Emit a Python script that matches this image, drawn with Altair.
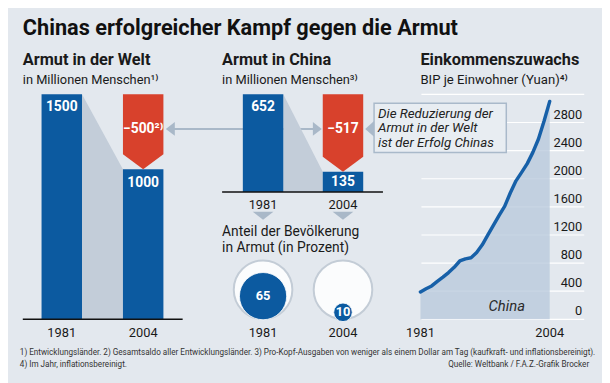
import altair as alt
import pandas as pd
import numpy as np

# ---------------- data ----------------
world_years = [1981, 2004]
world_values = [1500, 1000]
world_change_label = "−500²⁾"
china_years = [1981, 2004]
china_values = [652, 135]
china_change_label = "−517"
share_years = [1981, 2004]
share_values = [65, 10]
gdp_years = list(range(1981, 2005))
gdp_values = [390, 435, 475, 540, 600, 665, 740, 830, 860, 875, 950, 1060,
              1200, 1340, 1480, 1610, 1800, 1970, 2090, 2215, 2375, 2565, 2820, 3100]
gdp_grid = [0, 400, 800, 1200, 1600, 2000, 2400, 2800, 3200]
gdp_tick_labels = ["0", "400", "800", "1200", "1600", "2000", "2400", "2800"]

# ---------------- style ----------------
BG = "#e3e8ee"
BLUE = "#0c5aa0"
RED = "#d8412c"
SHADE = "#c3cdd9"
ARROW = "#a9b8c8"
TXT = "#1a1a1a"
FONT = "Roboto"
W, H = 602, 375

W_X = [54.5, 137]
C_X = [258.5, 339.5]
L_X = [418, 549]
BAR_PX = 20.5
TIP = 100


def xs(rng):
    return alt.Scale(domain=[1981, 2004], range=rng, nice=False, zero=False)


W_Y = alt.Scale(domain=[0, 1500], range=[313, 85], nice=False, zero=False)
C_Y = alt.Scale(domain=[0, 652], range=[184, 85], nice=False, zero=False)
L_Y = alt.Scale(domain=[0, 3200], range=[313, 85], nice=False, zero=False)

dummy = pd.DataFrame({"a": [0]})


def txt(text, x, y, size=13, weight="normal", align="left", color=TXT,
        font=FONT, style="normal", baseline="middle", **kw):
    return alt.Chart(dummy).mark_text(
        text=text, fontSize=size, fontWeight=weight, align=align, color=color,
        font=font, fontStyle=style, baseline=baseline, **kw
    ).encode(x=alt.value(x), y=alt.value(y))


def bar_panel(years, values, rng, yscale, change_label, label_dy2):
    hw = BAR_PX * 23 / (rng[1] - rng[0])
    df = pd.DataFrame({"year": years, "value": values})
    conn = pd.DataFrame({"x": [years[0] + hw, years[1] - hw], "value": values})
    pent = pd.DataFrame({
        "x": [years[1] - hw, years[1], years[1] + hw],
        "lo": [values[1] + TIP, values[1], values[1] + TIP],
        "hi": [values[0]] * 3,
    })
    X = lambda f: alt.X(f, scale=xs(rng), axis=None)
    Y = lambda f: alt.Y(f, scale=yscale, axis=None)
    shade = alt.Chart(conn).mark_area(color=SHADE).encode(
        x=X("x:Q"), y=Y("value:Q"), y2=alt.datum(0))
    bars = alt.Chart(df).transform_calculate(
        x0=f"datum.year - {hw}", x1=f"datum.year + {hw}"
    ).mark_rect(color=BLUE).encode(
        x=X("x0:Q"), x2="x1:Q", y=Y("value:Q"), y2=alt.datum(0))
    red = alt.Chart(pent).mark_area(color=RED, opacity=1).encode(
        x=X("x:Q"), y=Y("lo:Q"), y2=alt.Y2("hi:Q"))
    lab1 = alt.Chart(df.iloc[[0]]).mark_text(
        color="white", fontWeight="bold", fontSize=14, font=FONT, dy=13
    ).encode(x=X("year:Q"), y=Y("value:Q"), text="value:N")
    lab2 = alt.Chart(df.iloc[[1]]).mark_text(
        color="white", fontWeight="bold", fontSize=14, font=FONT, dy=label_dy2
    ).encode(x=X("year:Q"), y=Y("value:Q"), text="value:N")
    chg = alt.Chart(df.iloc[[1]]).mark_text(
        color="white", fontWeight="bold", fontSize=14, font=FONT,
        text=change_label
    ).encode(x=X("year:Q"), y=alt.value(120))
    return [shade, bars, red, lab1, lab2, chg]


def year_labels(years, rng, y):
    df = pd.DataFrame({"year": years})
    return alt.Chart(df).mark_text(fontSize=13, font=FONT, color=TXT).encode(
        x=alt.X("year:Q", scale=xs(rng), axis=None), y=alt.value(y),
        text="year:N")


layers = []

# ---- line chart panel ----
grid = alt.Chart(pd.DataFrame({"v": gdp_grid})).mark_rule(
    color="white", strokeWidth=1.2).encode(
    y=alt.Y("v:Q", scale=L_Y, axis=None), x=alt.value(419), x2=alt.value(584))
gdf = pd.DataFrame({"year": gdp_years, "value": gdp_values})
area = alt.Chart(gdf).mark_area(color="#b9c9dc", opacity=0.78).encode(
    x=alt.X("year:Q", scale=xs(L_X), axis=None),
    y=alt.Y("value:Q", scale=L_Y, axis=None), y2=alt.datum(0))
line = alt.Chart(gdf).mark_line(color="#1760a8", strokeWidth=3.5,
                                strokeCap="round", strokeJoin="round").encode(
    x=alt.X("year:Q", scale=xs(L_X), axis=None),
    y=alt.Y("value:Q", scale=L_Y, axis=None))
ticks = alt.Chart(pd.DataFrame({"v": gdp_grid[:-1], "t": gdp_tick_labels})).mark_text(
    align="right", baseline="bottom", fontSize=13, font=FONT, color=TXT, dy=-1
).encode(y=alt.Y("v:Q", scale=L_Y, axis=None), x=alt.value(582), text="t:N")
layers += [grid, area, line, ticks, year_labels(world_years, L_X, 327),
           txt("China", 487, 300, size=15, style="italic", color="#2a2a2a")]

# ---- world panel ----
layers += bar_panel(world_years, world_values, W_X, W_Y, world_change_label, 14)
layers += [alt.Chart(dummy).mark_rule(color="#111", strokeWidth=1.5).encode(
    x=alt.value(15), x2=alt.value(177), y=alt.value(313)),
    year_labels(world_years, W_X, 327)]

# ---- grey arrow between panels ----
layers += [
    alt.Chart(dummy).mark_rule(color=ARROW, strokeWidth=2).encode(
        x=alt.value(164), x2=alt.value(313), y=alt.value(120)),
    alt.Chart(dummy).mark_point(shape="M-0.65,0L0.65,-1L0.65,1Z", size=196,
                                filled=True, color=ARROW, opacity=1).encode(
        x=alt.value(164.5), y=alt.value(120)),
    alt.Chart(dummy).mark_point(shape="M0.65,0L-0.65,-1L-0.65,1Z", size=196,
                                filled=True, color=ARROW, opacity=1).encode(
        x=alt.value(313.5), y=alt.value(120)),
]

# ---- china panel ----
layers += bar_panel(china_years, china_values, C_X, C_Y, china_change_label, 10)
layers += [alt.Chart(dummy).mark_rule(color="#111", strokeWidth=1.5).encode(
    x=alt.value(217), x2=alt.value(380), y=alt.value(184)),
    year_labels(china_years, C_X, 197)]
tri = pd.DataFrame({"year": china_years})
layers += [alt.Chart(tri).mark_point(shape="M-1,-0.38L1,-0.38L0,0.38Z", size=441,
                                     filled=True, color=ARROW, opacity=1).encode(
    x=alt.X("year:Q", scale=xs(C_X), axis=None), y=alt.value(208))]

# ---- callout ----
layers += [
    alt.Chart(dummy).mark_rect(fill="#e8edf2", stroke="#a9b9ca", strokeWidth=1.5).encode(
        x=alt.value(371), x2=alt.value(505), y=alt.value(94), y2=alt.value(144)),
    alt.Chart(dummy).mark_point(shape="M-0.5625,0L0.5625,-1L0.5625,1Z", size=256,
                                filled=True, color="#a9b9ca", opacity=1).encode(
        x=alt.value(366.5), y=alt.value(120)),
    txt("Die Reduzierung der", 375, 105, size=13.5, style="italic", color="#222"),
    txt("Armut in der Welt", 375, 119.5, size=13.5, style="italic", color="#222"),
    txt("ist der Erfolg Chinas", 375, 134, size=13.5, style="italic", color="#222"),
]

# ---- circles ----
sdf = pd.DataFrame({"year": share_years, "pct": share_values})
SIZE = alt.Scale(domain=[0, 100], range=[0, 3526], zero=True, nice=False)
OFF = alt.Scale(domain=[0, 1], range=[283, 316.5], nice=False, zero=False)
layers += [
    alt.Chart(sdf).transform_calculate(full="100", o="0").mark_circle(
        color="#fbfcfd", stroke="#c3ccd6", strokeWidth=2, opacity=1).encode(
        x=alt.X("year:Q", scale=xs(C_X), axis=None),
        y=alt.Y("o:Q", scale=OFF, axis=None),
        size=alt.Size("full:Q", scale=SIZE, legend=None)),
    alt.Chart(sdf).transform_calculate(o="1 - sqrt(datum.pct / 100)").mark_circle(
        color=BLUE, opacity=1, stroke="white", strokeWidth=0.8).encode(
        x=alt.X("year:Q", scale=xs(C_X), axis=None),
        y=alt.Y("o:Q", scale=OFF, axis=None),
        size=alt.Size("pct:Q", scale=SIZE, legend=None)),
    alt.Chart(sdf).transform_calculate(o="1 - sqrt(datum.pct / 100)").mark_text(
        color="white", fontWeight="bold", fontSize=13, font=FONT).encode(
        x=alt.X("year:Q", scale=xs(C_X), axis=None),
        y=alt.Y("o:Q", scale=OFF, axis=None), text="pct:N"),
    year_labels(share_years, C_X, 327),
]

# ---- texts ----
FOOT = 8.25
layers += [
    txt("Chinas erfolgreicher Kampf gegen die Armut", 15, 25, size=22,
        weight="bold", baseline="alphabetic", color="#111"),
    txt("Armut in der Welt", 15, 50, size=16.5, weight="bold"),
    txt("in Millionen Menschen¹⁾", 15, 70, size=13),
    txt("Armut in China", 217, 50, size=16.5, weight="bold"),
    txt("in Millionen Menschen³⁾", 217, 70, size=13),
    txt("Einkommenszuwachs", 418, 50, size=16.5, weight="bold"),
    txt("BIP je Einwohner (Yuan)⁴⁾", 418, 70, size=13.3),
    txt("Anteil der Bevölkerung", 217, 225, size=14),
    txt("in Armut (in Prozent)", 217, 241, size=14),
    txt("1) Entwicklungsländer. 2) Gesamtsaldo aller Entwicklungsländer. 3) Pro-Kopf-Ausgaben von weniger als einem Dollar am Tag (kaufkraft- und inflationsbereinigt).",
        12, 347, size=FOOT, color="#333"),
    txt("4) Im Jahr, inflationsbereinigt.", 12, 359, size=FOOT, color="#333"),
    txt("Quelle: Weltbank / F.A.Z.-Grafik Brocker", 589, 359, size=FOOT,
        color="#333", align="right"),
]

chart = alt.layer(*layers).resolve_scale(
    x="independent", y="independent", size="independent"
).properties(
    width=W, height=H, autosize=alt.AutoSizeParams(type="none"), padding=0,
    background=BG
).configure_view(stroke=None)

chart.save("out.html", embed_options={"renderer": "svg", "actions": False})
